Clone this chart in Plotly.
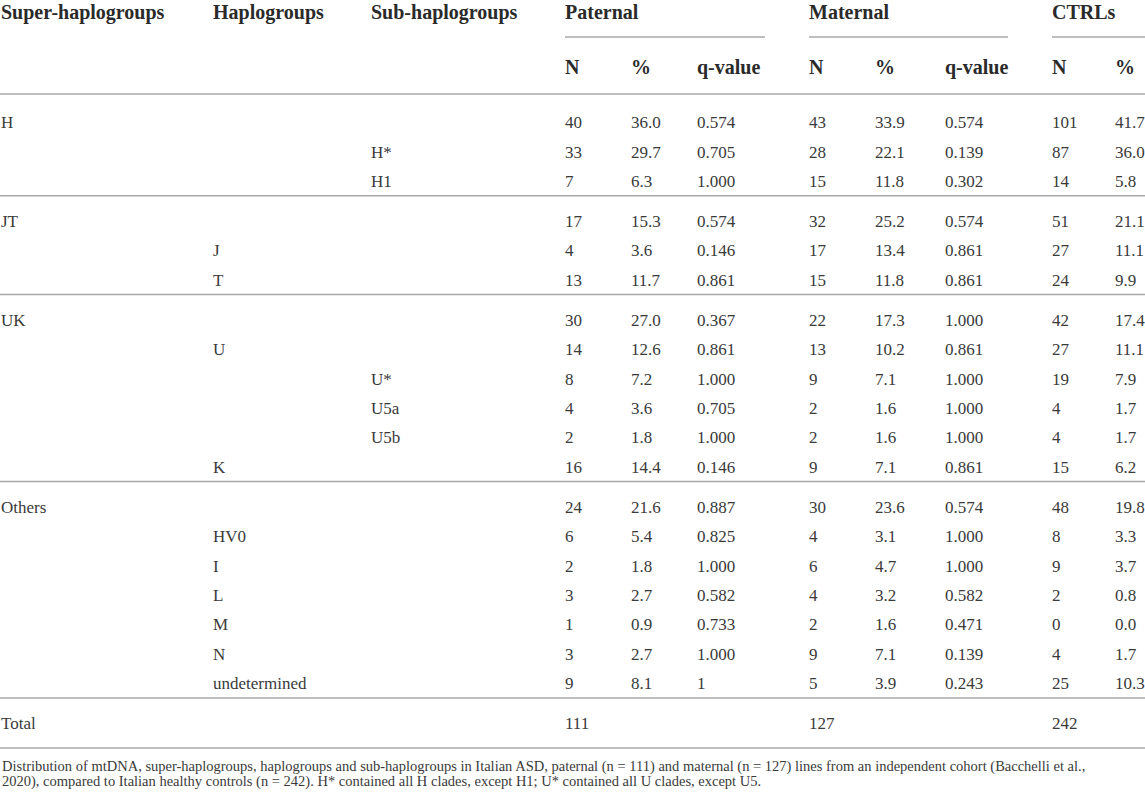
import plotly.graph_objects as go

# table content
labels = ["H", "H*", "H1", "JT", "J", "T", "UK", "U", "U*", "U5a", "U5b", "K",
          "Others", "HV0", "I", "L", "M", "N", "undetermined"]
levels = [0, 2, 2, 0, 1, 1, 0, 1, 2, 2, 2, 1, 0, 1, 1, 1, 1, 1, 1]
groups = [0, 0, 0, 1, 1, 1, 2, 2, 2, 2, 2, 2, 3, 3, 3, 3, 3, 3, 3]

pat_n = [40, 33, 7, 17, 4, 13, 30, 14, 8, 4, 2, 16, 24, 6, 2, 3, 1, 3, 9]
pat_pct = [36.0, 29.7, 6.3, 15.3, 3.6, 11.7, 27.0, 12.6, 7.2, 3.6, 1.8, 14.4,
           21.6, 5.4, 1.8, 2.7, 0.9, 2.7, 8.1]
pat_q = ["0.574", "0.705", "1.000", "0.574", "0.146", "0.861", "0.367", "0.861",
         "1.000", "0.705", "1.000", "0.146", "0.887", "0.825", "1.000", "0.582",
         "0.733", "1.000", "1"]

mat_n = [43, 28, 15, 32, 17, 15, 22, 13, 9, 2, 2, 9, 30, 4, 6, 4, 2, 9, 5]
mat_pct = [33.9, 22.1, 11.8, 25.2, 13.4, 11.8, 17.3, 10.2, 7.1, 1.6, 1.6, 7.1,
           23.6, 3.1, 4.7, 3.2, 1.6, 7.1, 3.9]
mat_q = ["0.574", "0.139", "0.302", "0.574", "0.861", "0.861", "1.000", "0.861",
         "1.000", "1.000", "1.000", "0.861", "0.574", "1.000", "1.000", "0.582",
         "0.471", "0.139", "0.243"]

ctrl_n = [101, 87, 14, 51, 27, 24, 42, 27, 19, 4, 4, 15, 48, 8, 9, 2, 0, 4, 25]
ctrl_pct = [41.7, 36.0, 5.8, 21.1, 11.1, 9.9, 17.4, 11.1, 7.9, 1.7, 1.7, 6.2,
            19.8, 3.3, 3.7, 0.8, 0.0, 1.7, 10.3]

totals = [111, 127, 242]

top_headers = ["Super-haplogroups", "Haplogroups", "Sub-haplogroups",
               "Paternal", "Maternal", "CTRLs"]
sub_headers = ["N", "%", "q-value", "N", "%", "q-value", "N", "%"]

caption = ["Distribution of mtDNA, super-haplogroups, haplogroups and sub-haplogroups in Italian ASD, "
           "paternal (n = 111) and maternal (n = 127) lines from an independent cohort (Bacchelli et al.,",
           "2020), compared to Italian healthy controls (n = 242). H* contained all H clades, except H1; "
           "U* contained all U clades, except U5."]

# layout (pixel-ish units)
W, H = 1145, 797
label_x = [1, 213, 371]
num_x = [565, 631, 697, 809, 875, 945, 1052, 1115]
group_x = [(565, 765), (809, 1008), (1052, 1145)]
first_row, step, gap = 122, 29.4, 10.6
dy = 2  # small nudge so text centres sit like the reference

body_font = dict(family="Liberation Serif", size=17, color="#3a3a3a")
head_font = dict(family="Liberation Serif", size=20, color="#2a2a2a")

row_y = [first_row + i * step + g * gap for i, g in enumerate(groups)]
total_y = first_row + len(labels) * step + (groups[-1] + 1) * gap

fig = go.Figure()

# row labels
fig.add_trace(go.Scatter(
    x=[label_x[lv] for lv in levels] + [label_x[0]],
    y=[y + dy for y in row_y + [total_y]],
    text=labels + ["Total"],
    mode="text", textposition="middle right", cliponaxis=False,
    textfont=body_font, hoverinfo="skip", showlegend=False))

# numeric cells
cols = [
    [str(v) for v in pat_n], [f"{v:.1f}" for v in pat_pct], pat_q,
    [str(v) for v in mat_n], [f"{v:.1f}" for v in mat_pct], mat_q,
    [str(v) for v in ctrl_n], [f"{v:.1f}" for v in ctrl_pct],
]
xs, ys, ts = [], [], []
for cx, col in zip(num_x, cols):
    xs += [cx] * len(col)
    ys += [y + dy for y in row_y]
    ts += col
for cx, t in zip([num_x[0], num_x[3], num_x[6]], totals):
    xs.append(cx)
    ys.append(total_y + dy)
    ts.append(str(t))
fig.add_trace(go.Scatter(
    x=xs, y=ys, text=ts, mode="text", textposition="middle right",
    cliponaxis=False, textfont=body_font, hoverinfo="skip", showlegend=False))

# headers
head_y1, head_y2 = 12 + dy, 67 + dy
fig.add_trace(go.Scatter(
    x=label_x + [g[0] for g in group_x] + num_x,
    y=[head_y1] * len(top_headers) + [head_y2] * len(sub_headers),
    text=[f"<b>{t}</b>" for t in top_headers + sub_headers],
    mode="text", textposition="middle right", cliponaxis=False,
    textfont=head_font, hoverinfo="skip", showlegend=False))

# rules
line_col = "#a8a8a8"
shapes = [dict(type="line", xref="x", yref="y", x0=a, x1=b, y0=37, y1=37,
               line=dict(color=line_col, width=1.5)) for a, b in group_x]
rule_ys = [first_row - 28]
for g in range(groups[-1] + 1):
    last = max(i for i, gg in enumerate(groups) if gg == g)
    rule_ys.append(row_y[last] + 15)
rule_ys.append(total_y + 25)
for ry in rule_ys:
    shapes.append(dict(type="line", xref="x", yref="y", x0=0, x1=W, y0=ry, y1=ry,
                       line=dict(color=line_col, width=1.5)))

annotations = []
for k, line in enumerate(caption):
    annotations.append(dict(
        x=0, y=total_y + 43 + k * 15.5, xref="x", yref="y", text=line,
        showarrow=False, xanchor="left", yanchor="middle",
        font=dict(family="Liberation Serif", size=14.5, color="#3a3a3a")))

fig.update_layout(
    width=W, height=H,
    margin=dict(l=0, r=0, t=0, b=0),
    paper_bgcolor="white", plot_bgcolor="white",
    shapes=shapes, annotations=annotations,
    showlegend=False,
)
fig.update_xaxes(range=[0, W], visible=False, fixedrange=True)
fig.update_yaxes(range=[H, 0], visible=False, fixedrange=True)

# drop the default page margin so the figure fills the window exactly
fig.write_html("out.html", config={"displayModeBar": False},
               post_script="document.body.style.margin='0';document.body.style.overflow='hidden';")
